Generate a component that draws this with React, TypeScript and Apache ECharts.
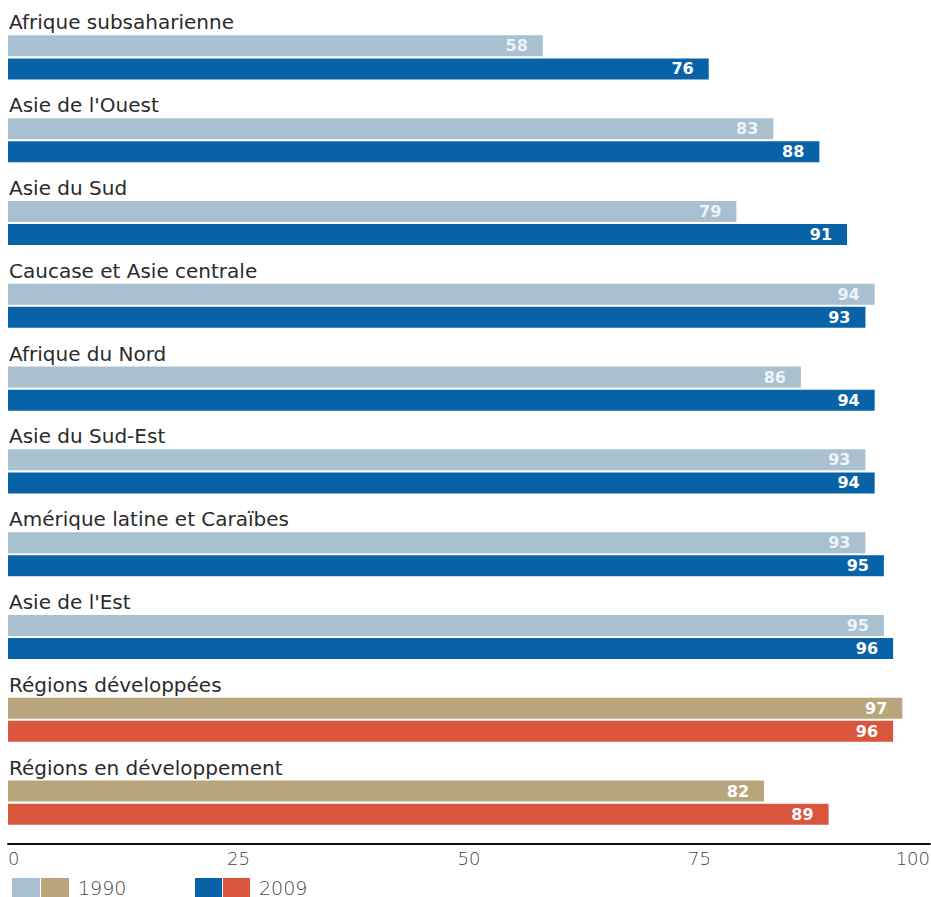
import React, { useEffect, useRef } from "react";
import * as echarts from "echarts";

const categories = [
  "Afrique subsaharienne",
  "Asie de l'Ouest",
  "Asie du Sud",
  "Caucase et Asie centrale",
  "Afrique du Nord",
  "Asie du Sud-Est",
  "Amérique latine et Caraïbes",
  "Asie de l'Est",
  "Régions développées",
  "Régions en développement",
];
const values1990 = [58, 83, 79, 94, 86, 93, 93, 95, 97, 82];
const values2009 = [76, 88, 91, 93, 94, 94, 95, 96, 96, 89];
const isAggregate = [false, false, false, false, false, false, false, false, true, true];
const xTicks = [0, 25, 50, 75, 100];

const C_LIGHT = "#a9c0d1";
const C_DARK = "#0862a8";
const C_TAN = "#b9a57c";
const C_RED = "#d9553b";

export default function App() {
  const ref = useRef<HTMLDivElement>(null);
  useEffect(() => {
    if (!ref.current) return;
    const chart = echarts.init(ref.current, null, { renderer: "svg" });
    const pick = (vals: number[], agg: boolean) =>
      vals.map((v, i) => (isAggregate[i] === agg ? v : "-"));
    const valueLabel = (color: string) => ({
      show: true,
      position: "insideRight",
      distance: 15,
      color,
      fontFamily: "DejaVu Sans",
      fontWeight: "bold",
      fontSize: 16,
    });
    const barCommon = { type: "bar", barWidth: 21, barGap: "10%" };
    const legendText = {
      fontFamily: "DejaVu Sans",
      fontWeight: 200,
      fontSize: 19,
      color: "#444",
      padding: [0, 0, 0, 4],
    };
    chart.setOption({
      animation: false,
      backgroundColor: "#ffffff",
      grid: { left: 8, top: 16, width: 922, height: 828, outerBoundsMode: "none", containLabel: false },
      xAxis: {
        type: "value",
        min: xTicks[0],
        max: xTicks[xTicks.length - 1],
        interval: 25,
        axisLine: { show: true, lineStyle: { color: "#111", width: 2 } },
        axisTick: { show: false },
        splitLine: { show: false },
        axisLabel: {
          margin: 5,
          fontFamily: "DejaVu Sans",
          fontWeight: 200,
          fontSize: 18,
          color: "#444",
          alignMinLabel: "left",
          alignMaxLabel: "right",
        },
      },
      yAxis: {
        type: "category",
        inverse: true,
        data: categories,
        axisLine: { show: false },
        axisTick: { show: false },
        axisLabel: {
          inside: true,
          interval: 0,
          margin: 1,
          align: "left",
          verticalAlign: "bottom",
          lineHeight: 70,
          fontFamily: "DejaVu Sans",
          fontSize: 20,
          color: "#2b2b2b",
        },
      },
      legend: [
        {
          left: 7,
          top: 873,
          itemWidth: 28,
          itemHeight: 19,
          itemGap: 1,
          icon: "rect",
          selectedMode: false,
          data: ["r1990", "a1990"],
          formatter: (n: string) => (n.startsWith("a") ? n.slice(1) : ""),
          textStyle: legendText,
        },
        {
          left: 190,
          top: 873,
          itemWidth: 27,
          itemHeight: 19,
          itemGap: 1,
          icon: "rect",
          selectedMode: false,
          data: ["r2009", "a2009"],
          formatter: (n: string) => (n.startsWith("a") ? n.slice(1) : ""),
          textStyle: legendText,
        },
      ],
      series: [
        {
          ...barCommon,
          name: "r1990",
          stack: "s1990",
          data: pick(values1990, false),
          itemStyle: { color: C_LIGHT },
          label: valueLabel("#eef3f7"),
        },
        {
          ...barCommon,
          name: "a1990",
          stack: "s1990",
          data: pick(values1990, true),
          itemStyle: { color: C_TAN },
          label: valueLabel("#ffffff"),
        },
        {
          ...barCommon,
          name: "r2009",
          stack: "s2009",
          data: pick(values2009, false),
          itemStyle: { color: C_DARK },
          label: valueLabel("#ffffff"),
        },
        {
          ...barCommon,
          name: "a2009",
          stack: "s2009",
          data: pick(values2009, true),
          itemStyle: { color: C_RED },
          label: valueLabel("#ffffff"),
        },
      ],
    });
    return () => chart.dispose();
  }, []);
  return (
    <div
      ref={ref}
      style={{ position: "fixed", left: 0, top: 0, width: 931, height: 897, background: "#fff" }}
    />
  );
}
